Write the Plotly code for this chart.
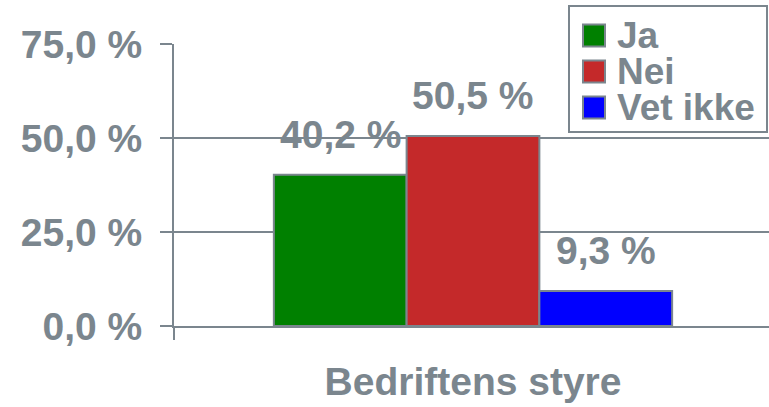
import plotly.graph_objects as go

categories = ["Bedriftens styre"]
series_names = ["Ja", "Nei", "Vet ikke"]
series_values = [[40.2], [50.5], [9.3]]
series_colors = ["#008000", "#C4292A", "#0000FF"]
y_ticks = [0, 25, 50, 75]
y_tick_labels = ["0,0 %", "25,0 %", "50,0 %", "75,0 %"]

GRAY = "#7b868e"
FONT = "Liberation Sans, Arial, sans-serif"
W, H = 769, 407
ML, MR, MT, MB = 174, 0, 44, 81
BARGAP = 0.334

fig = go.Figure()
for name, vals, col in zip(series_names, series_values, series_colors):
    fig.add_trace(go.Bar(
        x=categories, y=vals, name=name,
        marker=dict(color=col, line=dict(color=GRAY, width=2)),
        showlegend=False, hoverinfo="x+y+name",
    ))

# data labels above bars
n = len(series_names)
bw = (1 - BARGAP) / n
annotations = []
for i, vals in enumerate(series_values):
    for ci, v in enumerate(vals):
        xoff = ci + (i - (n - 1) / 2) * bw
        annotations.append(dict(
            x=xoff, y=v, xref="x", yref="y", yanchor="bottom", xanchor="center",
            text=f"{v:.1f}".replace(".", ",") + " %", showarrow=False, yshift=17,
            font=dict(family=FONT, size=39, color=GRAY, weight="bold"),
        ))

# manual legend (pixel -> paper)
pw = W - ML - MR
ph = H - MT - MB
def px(x):
    return (x - ML) / pw
def py(y):
    return (H - MB - y) / ph

shapes = [dict(type="rect", xref="paper", yref="paper", x0=px(569), x1=px(767),
               y0=py(132), y1=py(6), line=dict(color=GRAY, width=2),
               fillcolor="white", layer="above")]
row_y = [35.5, 71.5, 107.5]
for name, col, ry in zip(series_names, series_colors, row_y):
    shapes.append(dict(type="rect", xref="paper", yref="paper",
                       x0=px(583), x1=px(605), y0=py(ry + 11), y1=py(ry - 11),
                       line=dict(color=GRAY, width=2), fillcolor=col, layer="above"))
    annotations.append(dict(x=px(615), y=py(ry), xref="paper", yref="paper",
                            xanchor="left", yanchor="middle", text=name, showarrow=False,
                            font=dict(family=FONT, size=37, color=GRAY, weight="bold")))

fig.update_layout(
    width=W, height=H, margin=dict(l=ML, r=MR, t=MT, b=MB),
    paper_bgcolor="white", plot_bgcolor="white",
    barmode="group", bargap=BARGAP, bargroupgap=0,
    shapes=shapes, annotations=annotations,
    font=dict(family=FONT, color=GRAY),
    xaxis=dict(type="category", range=[-0.5, 0.495], showgrid=False,
               showline=True, linecolor=GRAY, linewidth=2,
               ticks="outside", tickson="boundaries", ticklen=12,
               tickcolor=GRAY, tickwidth=2, ticklabelstandoff=20,
               tickfont=dict(family=FONT, size=39, color=GRAY, weight="bold")),
    yaxis=dict(range=[0, 75], tickvals=y_ticks, ticktext=y_tick_labels,
               showgrid=True, gridcolor=GRAY, gridwidth=2, zeroline=False,
               showline=True, linecolor=GRAY, linewidth=2,
               ticks="outside", ticklen=12, tickcolor=GRAY, tickwidth=2,
               ticklabelstandoff=10,
               tickfont=dict(family=FONT, size=39, color=GRAY, weight="bold")),
)

fig.write_html("out.html", config={"displayModeBar": False},
               post_script="document.body.style.margin='0';")
